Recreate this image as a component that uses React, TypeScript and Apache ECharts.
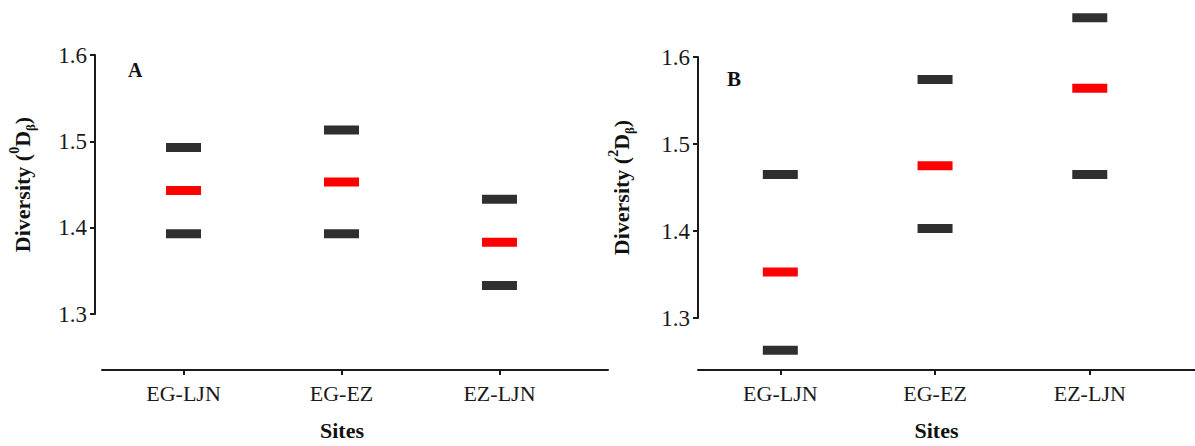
import React, { useEffect, useRef } from "react";
import * as echarts from "echarts";

const categories = ["EG-LJN", "EG-EZ", "EZ-LJN"];
const catPositions = [1, 2, 3];
const yTickValues = [1.3, 1.4, 1.5, 1.6];

// Panel A (0D beta)
const aUpper = [1.493, 1.513, 1.433];
const aMean = [1.443, 1.453, 1.383];
const aLower = [1.393, 1.393, 1.333];

// Panel B (2D beta)
const bUpper = [1.465, 1.574, 1.645];
const bMean = [1.353, 1.475, 1.564];
const bLower = [1.263, 1.403, 1.465];

const SERIF = "'Liberation Serif', 'Times New Roman', serif";
const DARK = "#2f2f2f";
const RED = "#ff0000";
const AXIS = "#1a1a1a";

const toPts = (vals: number[]) => catPositions.map((p, i) => [p, vals[i]]);

function yName(sup: string) {
  return `{b|Diversity (}{sup|${sup}}{b|D}{sub|β}{b|)}`;
}

const yNameRich = {
  b: { fontSize: 22, fontWeight: "bold", fontFamily: SERIF, color: "#111", lineHeight: 30 },
  sup: { fontSize: 14, fontWeight: "bold", fontFamily: SERIF, color: "#111", verticalAlign: "top", lineHeight: 30 },
  sub: { fontSize: 13, fontWeight: "bold", fontFamily: SERIF, color: "#111", verticalAlign: "bottom", lineHeight: 30 },
};

function makeX(gridIndex: number, min: number, max: number, offset: number, padRight: number) {
  return {
    type: "value",
    gridIndex,
    min,
    max,
    offset,
    name: "Sites",
    nameLocation: "middle",
    nameGap: 49,
    nameTextStyle: {
      fontFamily: SERIF,
      fontWeight: "bold",
      fontSize: 22,
      color: "#111",
      padding: [0, padRight, 0, 0],
    },
    axisLine: { show: true, onZero: false, lineStyle: { color: AXIS, width: 2 } },
    axisTick: { show: true, length: 5, customValues: catPositions, lineStyle: { color: AXIS, width: 2 } },
    axisLabel: {
      customValues: catPositions,
      margin: 12,
      fontFamily: SERIF,
      fontSize: 22,
      color: "#1a1a1a",
      formatter: (v: number) => categories[Math.round(v) - 1] ?? "",
    },
    splitLine: { show: false },
  };
}

function makeY(gridIndex: number, offset: number, sup: string, nameGap: number) {
  return {
    type: "value",
    gridIndex,
    min: 1.3,
    max: 1.6,
    interval: 0.1,
    offset,
    name: yName(sup),
    nameLocation: "middle",
    nameRotate: 90,
    nameGap,
    nameTextStyle: { rich: yNameRich },
    axisLine: { show: true, lineStyle: { color: AXIS, width: 2 } },
    axisTick: { show: true, length: 5, lineStyle: { color: AXIS, width: 2 } },
    axisLabel: {
      margin: 8,
      fontFamily: SERIF,
      fontSize: 23,
      color: "#1a1a1a",
      formatter: (v: number) => (yTickValues.some((t) => Math.abs(t - v) < 1e-6) ? v.toFixed(1) : ""),
    },
    splitLine: { show: false },
  };
}

function mark(name: string, vals: number[], color: string, idx: number) {
  return {
    name,
    type: "scatter",
    xAxisIndex: idx,
    yAxisIndex: idx,
    data: toPts(vals),
    symbol: "rect",
    symbolSize: [35, 9],
    clip: false,
    itemStyle: { color, opacity: 1, borderWidth: 0 },
  };
}

export default function App() {
  const ref = useRef<HTMLDivElement>(null);
  useEffect(() => {
    if (!ref.current) return;
    const chart = echarts.init(ref.current, undefined, { renderer: "svg" });
    chart.setOption({
      animation: false,
      backgroundColor: "#ffffff",
      grid: [
        { left: 102, top: 55, width: 506, height: 261 },
        { left: 698, top: 57, width: 508, height: 261 },
      ],
      xAxis: [makeX(0, 0.484, 3.687, 56, 26), makeX(1, 0.468, 3.68, 52, 20)],
      yAxis: [makeY(0, 7, "0", 58), makeY(1, 0, "2", 62)],
      series: [
        mark("A upper", aUpper, DARK, 0),
        mark("A mean", aMean, RED, 0),
        mark("A lower", aLower, DARK, 0),
        mark("B upper", bUpper, DARK, 1),
        mark("B mean", bMean, RED, 1),
        mark("B lower", bLower, DARK, 1),
      ],
      graphic: [
        {
          type: "text",
          left: 128,
          top: 60,
          style: { text: "A", font: `bold 20px ${SERIF}`, fill: "#111" },
        },
        {
          type: "text",
          left: 727,
          top: 68,
          style: { text: "B", font: `bold 21px ${SERIF}`, fill: "#111" },
        },
      ],
    });
    return () => chart.dispose();
  }, []);
  return (
    <div
      ref={ref}
      style={{ position: "absolute", left: 0, top: 0, width: 1195, height: 446, background: "#fff" }}
    />
  );
}
